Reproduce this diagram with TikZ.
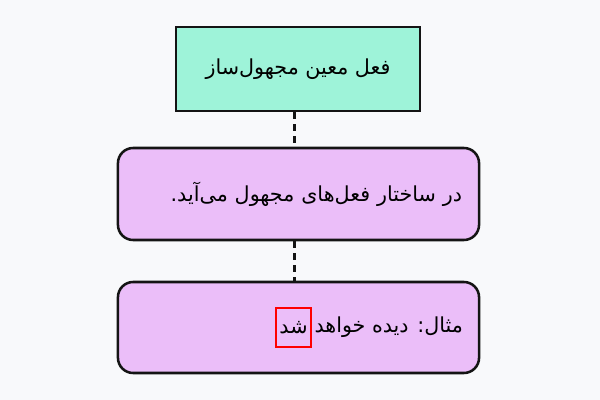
\documentclass[tikz,border=0pt]{standalone}
\usepackage{fontspec}
\usepackage{xcolor}
\usepackage{tikz}
\usetikzlibrary{positioning}
\TeXXeTstate=1
\newfontfamily\farsifont[Script=Arabic]{DejaVu Sans}
\definecolor{mintfill}{HTML}{9EF3D9}
\definecolor{violetfill}{HTML}{EBBEF9}
\definecolor{edgegray}{HTML}{141414}
\definecolor{pagebg}{HTML}{F8F9FB}

\begin{document}
\begin{tikzpicture}[x=0.025cm, y=-0.025cm,
		every node/.style={font=\farsifont\fontsize{14.7}{17}\selectfont},
		headbox/.style={draw=edgegray, fill=mintfill, line width=1.8pt, minimum width=6.1cm, minimum height=2.1cm},
		notebox/.style={draw=edgegray, fill=violetfill, line width=1.8pt, rounded corners=0.38cm, minimum width=9.025cm, minimum height=2.3cm, inner xsep=0.425cm, text width=8.175cm, align=right},
		wordbox/.style={draw=red, line width=1.4pt, inner xsep=2.5pt, minimum height=0.97cm},
		link/.style={draw=edgegray, line width=1.8pt, dash pattern=on 5pt off 3.5pt}]
			\fill[pagebg] (0,0) rectangle (600,400);
			\useasboundingbox (0,0) rectangle (600,400);
			\node[headbox] (fel) at (298,69) {\beginR فعل معین مجهول‌ساز\endR};
			\node[notebox] (sakhtar) at (298.5,194) {\beginR در ساختار فعل‌های مجهول می‌آید.\endR};
			\node[notebox, minimum height=2.275cm] (mesal) at (298.5,327.5) {};
			\node[left=0.425cm of mesal.east, inner xsep=0pt] (mesaltext) {\beginR مثال: دیده خواهد\endR};
			\node[wordbox, left=1.5pt of mesaltext] (shod) {\beginR شد\endR};
			\draw[link] ([xshift=-2.5]fel.south) -- ([xshift=-2.5]fel.south |- sakhtar.north);
			\draw[link] ([xshift=-3]sakhtar.south) -- ([xshift=-3]sakhtar.south |- mesal.north);
		\end{tikzpicture}
\end{document}
